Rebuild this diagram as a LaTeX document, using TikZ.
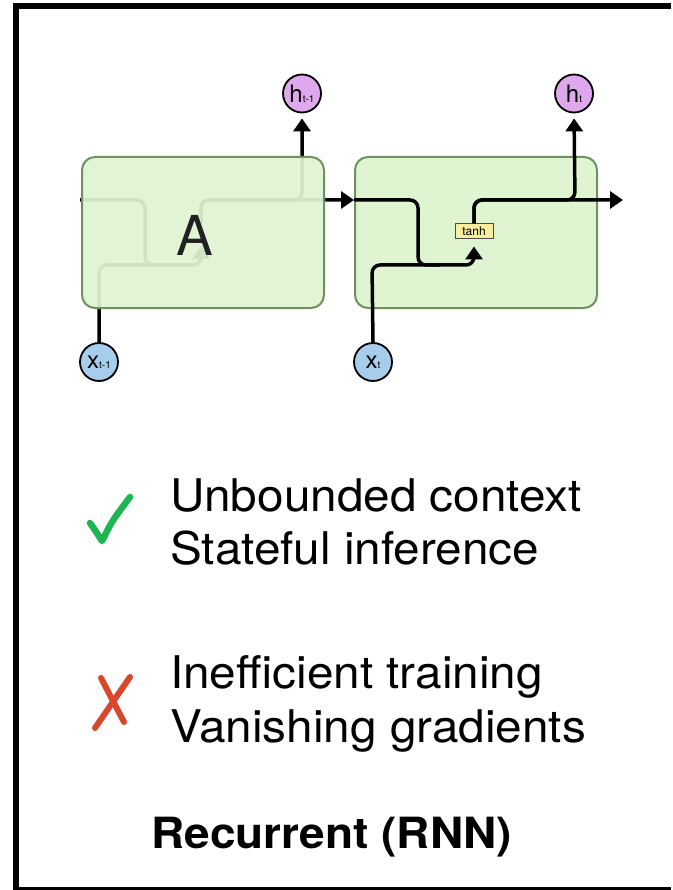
\documentclass[tikz,border=0pt]{standalone}
\usepackage{fontspec}
\setmainfont{TeX Gyre Heros}
\newfontfamily\listfont{TeX Gyre Heros}[FakeStretch=1.06]
\newfontfamily\capfont{TeX Gyre Heros}[FakeStretch=1.07]
\usetikzlibrary{arrows.meta}

\definecolor{cellfill}{HTML}{DFF5D1}
\definecolor{celldraw}{HTML}{6F9160}
\definecolor{hfill}{HTML}{DDA9EC}
\definecolor{xfill}{HTML}{A6CEEC}
\definecolor{tanhfill}{HTML}{F9EE9E}
\definecolor{okgreen}{HTML}{1EB553}
\definecolor{badred}{HTML}{D8472C}

\begin{document}
\begin{tikzpicture}[x=1pt,y=-1pt,
  cell/.style={draw=celldraw, line width=2pt, fill=cellfill, rounded corners=13pt,
    minimum width=242pt, minimum height=151pt, inner sep=0pt},
  hnode/.style={circle, draw, line width=1.8pt, fill=hfill, minimum size=38pt, inner sep=0pt},
  xnode/.style={circle, draw, line width=1.8pt, fill=xfill, minimum size=38pt, inner sep=0pt},
  flow/.style={line width=3.5pt, rounded corners=8pt},
  arr/.style={flow, -{Triangle[length=13pt,width=17pt]}},
  gate/.style={draw=black!70, line width=1pt, fill=tanhfill, minimum width=38pt,
    minimum height=15pt, inner sep=0pt, font=\fontsize{12}{12}\selectfont},
  item/.style={anchor=base west, inner sep=0pt, font=\listfont\fontsize{45}{54}\selectfont},
  tick/.style={line width=6.5pt, line cap=round, line join=round},
]
\fill[white] (0,0) rectangle (672,890);
\useasboundingbox (0,0) rectangle (672,890);

% outer frame (open to the right)
\draw[line width=5.5pt, line join=miter] (671,6) -- (16,6) -- (16,889.5) -- (671,889.5);

% input / output circles
\node[hnode] (hA) at (302,93.5) {\fontsize{24}{24}\selectfont h\fontsize{10}{10}\selectfont t-1};
\node[hnode] (hB) at (574,93.5) {\fontsize{24}{24}\selectfont h\fontsize{10}{10}\selectfont t};
\node[xnode] (xA) at (99,362) {\fontsize{24}{24}\selectfont x\fontsize{10}{10}\selectfont t-1};
\node[xnode] (xB) at (373,362) {\fontsize{24}{24}\selectfont x\fontsize{10}{10}\selectfont t};

% second cell with its tanh gate
\node[cell] (B) at (476,232.5) {};
\node[gate] (gB) at (474,231.5) {tanh};

\coordinate (lane) at (0,200);
\coordinate (out) at (623,200);
\coordinate (gAin) at (201,239);
\coordinate (gAout) at (201,224);

% flow through the second cell
\draw[flow] (B.west |- lane) -- (418,200) -- (418,265) -- (440,265);
\draw[arr, shorten >=7pt] (xB.north) -- (372,265) -- (474,265) -- (gB.south);
\draw[arr, shorten >=5pt] (gB.north) -- (474,200) -- (575,200) -- (hB.south);
\draw[arr] (gB.north) -- (474,200) -- (out);

% flow through the first cell (seen through its body)
\draw[flow] (80,200) -- (145,200) -- (145,265) -- (170,265);
\draw[arr, shorten >=7pt] (xA.north) -- (99,265) -- (201,265) -- (gAin);
\draw[arr, shorten >=5pt] (gAout) -- (201,200) -- (302,200) -- (hA.south);
\draw[arr] (gAout) -- (201,200) -- (B.west |- lane);

% first cell body drawn over its own wiring
\node[cell, fill opacity=0.93] (A) at (203,232.5) {};
\node[text=black!87, inner sep=0pt, font=\fontsize{55}{55}\selectfont] (Alabel) at (195,235) {A};

% pros
\draw[tick, okgreen] (90,523) .. controls (95,530) .. (102,541) .. controls (112,521) .. (130,497);
\node[item] (pro1) at (170,511) {Unbounded context};
\node[item] (pro2) at (170,564) {Stateful inference};

% cons
\draw[tick, badred, line width=6pt] (130,677) -- (95,728);
\draw[tick, badred, line width=6pt] (101,678) -- (124,722);
\node[item] (con1) at (170,688) {Inefficient training};
\node[item] (con2) at (170,742) {Vanishing gradients};

% caption
\node[anchor=base west, inner sep=0pt, font=\capfont\fontsize{43}{43}\selectfont\bfseries] (title) at (151,848) {Recurrent (RNN)};
\end{tikzpicture}
\end{document}
